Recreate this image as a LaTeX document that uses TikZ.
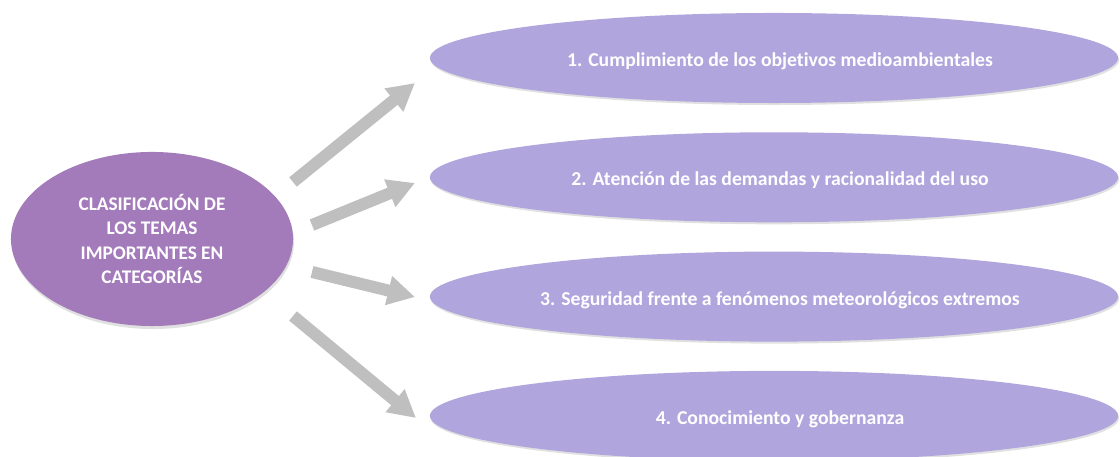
\documentclass[tikz,border=0pt]{standalone}
\usepackage{fontspec}
\setmainfont{Carlito}[Ligatures=NoCommon]
\usepackage{tikz}
\usetikzlibrary{arrows.meta, positioning, calc, shapes.geometric}

\definecolor{centro}{HTML}{A37BBB}
\definecolor{lila}{HTML}{B0A6DD}
\definecolor{flecha}{HTML}{BFBFBF}

\begin{document}
\begin{tikzpicture}[x=0.025cm,y=-0.025cm,
  tema/.style={ellipse, fill=lila, inner sep=0pt,
    minimum width=17.2cm, minimum height=2.25cm},
  rotulo/.style={text=white, inner sep=0pt,
    font=\fontsize{14}{17}\selectfont\bfseries},
  sombra/.style={ellipse, fill=black!12, inner sep=0pt,
    minimum width=17.2cm, minimum height=2.25cm},
  flechagris/.style={draw=flecha, line width=0.3cm,
    -{Triangle[width=0.7cm,length=0.68cm]}}
]

% PARAMETERS
\def\CX{774}   % x-centre of the category ellipses
\def\DY{119.3} % vertical spacing of the categories

\useasboundingbox (0,0) rectangle (1120,457);

% ------------------------
% Central ellipse
% ------------------------
\node[ellipse, fill=black!12, minimum width=7.05cm, minimum height=4.35cm]
  at (153,242) {};
\node[ellipse, fill=centro, text=white, align=center, inner sep=0pt,
  minimum width=7.05cm, minimum height=4.35cm,
  font=\fontsize{13.7}{17.3}\selectfont\bfseries] (clase) at (152,239)
  {CLASIFICACIÓN DE\\LOS TEMAS\\IMPORTANTES EN\\CATEGORÍAS};

% ------------------------
% Categories
% ------------------------
\foreach \i/\txt in {1/{1. Cumplimiento de los objetivos medioambientales},
                     2/{2. Atención de las demandas y racionalidad del uso},
                     3/{3. Seguridad frente a fenómenos meteorológicos extremos},
                     4/{4. Conocimiento y gobernanza}} {
  \node[sombra] at (\CX+1,{58+(\i-1)*\DY+2}) {};
  \node[tema] (cat\i) at (\CX,{58+(\i-1)*\DY}) {};
  \node[rotulo] (txt\i) at ([xshift=0.15cm,yshift=-0.08cm]cat\i.center) {\txt};
}

% ------------------------
% Arrows
% ------------------------
\coordinate (s1) at (293,182);
\coordinate (s2) at (312,225);
\coordinate (s3) at (312,272);
\coordinate (s4) at (293,316);
\coordinate (t1) at (415,83);
\coordinate (t2) at (415,183);
\coordinate (t3) at (415,297);
\coordinate (t4) at (416,418);

\foreach \i in {1,...,4} {
  \draw[flechagris] (s\i) -- (t\i);
}

\end{tikzpicture}
\end{document}
